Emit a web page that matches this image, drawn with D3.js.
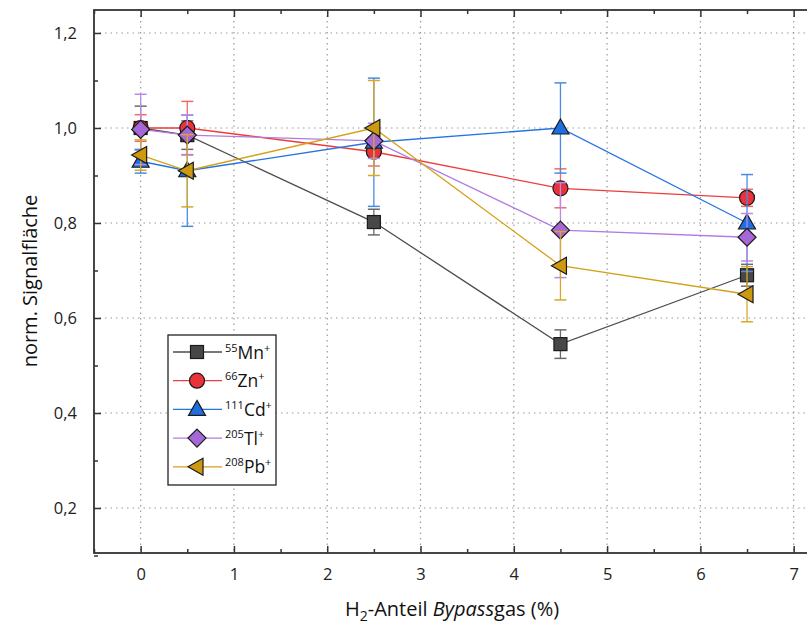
<!DOCTYPE html>
<html><head><meta charset="utf-8">
<script src="https://cdn.jsdelivr.net/npm/d3@7"></script>
<style>body{margin:0;background:#fff;overflow:hidden}svg{display:block;font-family:"Liberation Sans",Arial,sans-serif}</style>
</head><body><svg id="c" width="807" height="627"></svg>
<script>
const xValues = [0, 0.5, 2.5, 4.5, 6.5];
const mnValues = [1.0, 0.985, 0.802, 0.545, 0.69];
const mnErrors = [0.046, 0.03, 0.027, 0.03, 0.023];
const znValues = [1.0, 1.0, 0.95, 0.873, 0.853];
const znErrors = [0.028, 0.056, 0.03, 0.041, 0.018];
const cdValues = [0.93, 0.91, 0.97, 1.0, 0.80];
const cdErrors = [0.025, 0.117, 0.135, 0.095, 0.102];
const tlValues = [0.997, 0.985, 0.973, 0.785, 0.77];
const tlErrors = [0.074, 0.042, 0.037, 0.1, 0.05];
const pbValues = [0.943, 0.91, 1.0, 0.71, 0.65];
const pbErrors = [0.032, 0.076, 0.1, 0.072, 0.058];
const seriesNames = ["Mn", "Zn", "Cd", "Tl", "Pb"];
const seriesIsotopes = ["55", "66", "111", "205", "208"];
const xTicks = [0, 1, 2, 3, 4, 5, 6, 7];
const yTicks = [0.2, 0.4, 0.6, 0.8, 1.0, 1.2];

const series = [
  {name: seriesNames[0], iso: seriesIsotopes[0], v: mnValues, e: mnErrors, line: "#4d4d4d", fill: "#474747", err: "#6b6b6b", sym: "square"},
  {name: seriesNames[1], iso: seriesIsotopes[1], v: znValues, e: znErrors, line: "#ee3b3b", fill: "#e8333a", err: "#f06a6a", sym: "circle"},
  {name: seriesNames[2], iso: seriesIsotopes[2], v: cdValues, e: cdErrors, line: "#2575e0", fill: "#1f6fe0", err: "#4a8ae6", sym: "triangle"},
  {name: seriesNames[3], iso: seriesIsotopes[3], v: tlValues, e: tlErrors, line: "#b07ce2", fill: "#a667d8", err: "#b98ae6", sym: "diamond"},
  {name: seriesNames[4], iso: seriesIsotopes[4], v: pbValues, e: pbErrors, line: "#d4a018", fill: "#cc990f", err: "#d9a826", sym: "left"}
];

const L = 94, T = 10, B = 553;
const x = d3.scaleLinear().domain([-0.5, 7.5]).range([L, L + 8 * 93.29]);
const y = d3.scaleLinear().domain([0.1053, 1.2484]).range([B, T]);
const R = x(7.5);
const svg = d3.select("#c");

// grid
const g = svg.append("g");
xTicks.forEach(t => g.append("line").attr("x1", x(t)).attr("x2", x(t)).attr("y1", T).attr("y2", B)
  .attr("stroke", "#9a9a9a").attr("stroke-width", 1.2).attr("stroke-dasharray", "1.5,4"));
yTicks.forEach(t => g.append("line").attr("x1", L).attr("x2", R).attr("y1", y(t)).attr("y2", y(t))
  .attr("stroke", "#9a9a9a").attr("stroke-width", 1.2).attr("stroke-dasharray", "1.5,4"));

// axes (ticks inward)
const xMinor = d3.range(-0.5, 7.51, 0.5).filter(t => !xTicks.includes(t));
const yMinor = d3.range(0.1, 1.25, 0.1).map(v => +v.toFixed(2)).filter(t => !yTicks.some(m => Math.abs(m - t) < 1e-6));
const fmt = d => d3.format(".1f")(d).replace(".", ",");
svg.append("g").attr("transform", `translate(0,${B})`)
  .call(d3.axisBottom(x).tickValues(xTicks).tickSize(-7).tickPadding(15).tickFormat(d3.format("d")))
  .call(a => a.select(".domain").remove());
svg.append("g").attr("transform", `translate(0,${B})`)
  .call(d3.axisBottom(x).tickValues(xMinor).tickSize(-4).tickFormat(""))
  .call(a => a.select(".domain").remove());
svg.append("g").attr("transform", `translate(0,${T})`)
  .call(d3.axisTop(x).tickValues(xTicks).tickSize(-7).tickFormat(""))
  .call(a => a.select(".domain").remove());
svg.append("g").attr("transform", `translate(0,${T})`)
  .call(d3.axisTop(x).tickValues(xMinor).tickSize(-4).tickFormat(""))
  .call(a => a.select(".domain").remove());
svg.append("g").attr("transform", `translate(${L},0)`)
  .call(d3.axisLeft(y).tickValues(yTicks).tickSize(-7).tickPadding(17).tickFormat(fmt))
  .call(a => a.select(".domain").remove());
svg.append("g").attr("transform", `translate(${L},0)`)
  .call(d3.axisLeft(y).tickValues(yMinor).tickSize(-4).tickFormat(""))
  .call(a => a.select(".domain").remove());
svg.append("g").attr("transform", `translate(${R},0)`)
  .call(d3.axisRight(y).tickValues(yTicks).tickSize(-7).tickFormat(""))
  .call(a => a.select(".domain").remove());
svg.selectAll(".tick text").attr("font-size", 16.5).attr("fill", "#222").attr("font-family", "'Open Sans', sans-serif");
svg.selectAll(".tick line").attr("stroke", "#333").attr("stroke-width", 1.5);
svg.append("rect").attr("x", L).attr("y", T).attr("width", R - L).attr("height", B - T)
  .attr("fill", "none").attr("stroke", "#333").attr("stroke-width", 1.8);

// marker shapes
function marker(sel, sym, cx, cy, fill) {
  let p;
  if (sym === "square") p = sel.append("rect").attr("x", cx - 6.5).attr("y", cy - 6.5).attr("width", 13).attr("height", 13);
  else if (sym === "circle") p = sel.append("circle").attr("cx", cx).attr("cy", cy).attr("r", 7.5);
  else if (sym === "triangle") p = sel.append("path").attr("d", `M${cx},${cy - 9}L${cx + 8.5},${cy + 6}L${cx - 8.5},${cy + 6}Z`);
  else if (sym === "diamond") p = sel.append("path").attr("d", `M${cx},${cy - 9}L${cx + 9},${cy}L${cx},${cy + 9}L${cx - 9},${cy}Z`);
  else p = sel.append("path").attr("d", `M${cx - 9},${cy}L${cx + 6},${cy - 8.5}L${cx + 6},${cy + 8.5}Z`);
  p.attr("fill", fill).attr("stroke", "#1a1a1a").attr("stroke-width", 1.2);
}

const plot = svg.append("g");
const lineGen = d3.line().x(d => x(d[0])).y(d => y(d[1]));
series.forEach(s => {
  const pts = xValues.map((xv, i) => [xv, s.v[i], s.e[i]]);
  const gs = plot.append("g");
  pts.forEach(p => {
    gs.append("line").attr("x1", x(p[0])).attr("x2", x(p[0])).attr("y1", y(p[1] - p[2])).attr("y2", y(p[1] + p[2]))
      .attr("stroke", s.err).attr("stroke-width", 1.3);
    [p[1] - p[2], p[1] + p[2]].forEach(v => gs.append("line").attr("x1", x(p[0]) - 6).attr("x2", x(p[0]) + 6)
      .attr("y1", y(v)).attr("y2", y(v)).attr("stroke", s.err).attr("stroke-width", 1.5));
  });
  gs.append("path").datum(pts).attr("d", lineGen).attr("fill", "none").attr("stroke", s.line).attr("stroke-width", 1.3);
  pts.forEach(p => marker(gs, s.sym, x(p[0]), y(p[1]), s.fill));
});

// legend
const lg = svg.append("g");
lg.append("rect").attr("x", 168).attr("y", 335).attr("width", 108).attr("height", 150)
  .attr("fill", "#fff").attr("stroke", "#222").attr("stroke-width", 1.3);
series.forEach((s, i) => {
  const yy = 352 + i * 28.7;
  lg.append("line").attr("x1", 173).attr("x2", 222).attr("y1", yy).attr("y2", yy).attr("stroke", s.line).attr("stroke-width", 1.3);
  marker(lg, s.sym, 197, yy, s.fill);
  const t = lg.append("text").attr("x", 225).attr("y", yy + 6.5).attr("font-size", 17.5).attr("fill", "#111")
    .attr("font-family", "'Open Sans', sans-serif");
  t.append("tspan").text(s.iso).attr("font-size", 11).attr("dy", -7);
  t.append("tspan").text(s.name).attr("dy", 7);
  t.append("tspan").text("+").attr("font-size", 11).attr("dy", -7);
});

// axis titles
const xt = svg.append("text").attr("x", 452).attr("y", 616).attr("text-anchor", "middle").attr("font-size", 20)
  .attr("fill", "#111").attr("font-family", "'Open Sans', sans-serif");
xt.append("tspan").text("H");
xt.append("tspan").text("2").attr("font-size", 14).attr("dy", 5);
xt.append("tspan").text("-Anteil ").attr("dy", -5);
xt.append("tspan").text("Bypass").attr("font-style", "italic");
xt.append("tspan").text("gas (%)");
svg.append("text").attr("transform", "translate(37,281) rotate(-90)").attr("text-anchor", "middle")
  .attr("font-size", 20).attr("fill", "#111").attr("font-family", "'Open Sans', sans-serif").text("norm. Signalfläche");
</script></body></html>
